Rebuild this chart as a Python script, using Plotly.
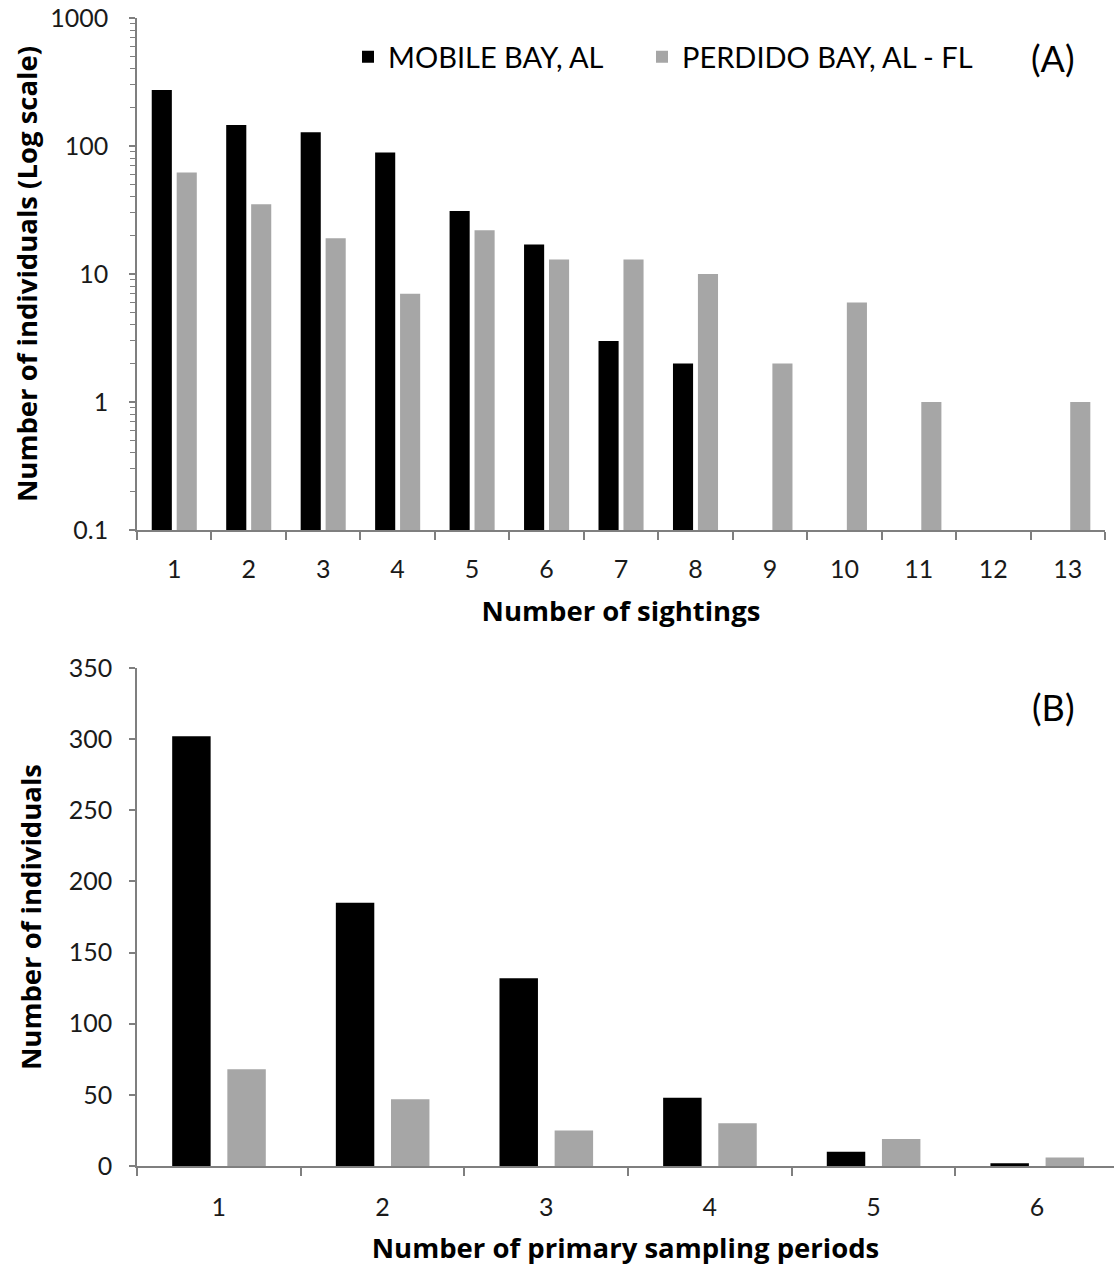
import plotly.graph_objects as go

# ---- Data ----
sightings = [str(i) for i in range(1, 14)]
mobile_sightings = [274, 146, 128, 89, 31, 17, 3, 2, None, None, None, None, None]
perdido_sightings = [62, 35, 19, 7, 22, 13, 13, 10, 2, 6, 1, None, 1]

periods = [str(i) for i in range(1, 7)]
mobile_periods = [302, 185, 132, 48, 10, 2]
perdido_periods = [68, 47, 25, 30, 19, 6]

series_names = ["MOBILE BAY, AL", "PERDIDO BAY, AL - FL"]
colors = ["#000000", "#a6a6a6"]

FONT = "Lato"
TITLE_FONT = "Open Sans"
AXIS_COLOR = "#7f7f7f"

fig = go.Figure()

# Panel A
fig.add_trace(go.Bar(x=sightings, y=mobile_sightings, name=series_names[0],
                     marker=dict(color=colors[0], line=dict(width=0)),
                     width=0.27, offset=-0.302, xaxis="x", yaxis="y",
                     legend="legend"))
fig.add_trace(go.Bar(x=sightings, y=perdido_sightings, name=series_names[1],
                     marker=dict(color=colors[1], line=dict(width=0)),
                     width=0.27, offset=0.033, xaxis="x", yaxis="y",
                     legend="legend2"))
# Panel B
fig.add_trace(go.Bar(x=periods, y=mobile_periods, name=series_names[0],
                     marker=dict(color=colors[0], line=dict(width=0)),
                     width=0.235, offset=-0.285, xaxis="x2", yaxis="y2",
                     showlegend=False))
fig.add_trace(go.Bar(x=periods, y=perdido_periods, name=series_names[1],
                     marker=dict(color=colors[1], line=dict(width=0)),
                     width=0.235, offset=0.052, xaxis="x2", yaxis="y2",
                     showlegend=False))

W, H = 1114, 1268
L = 137
pw = W - L


def fx(px):
    return (px - L) / pw


def fy(py):
    return 1 - py / H


tick_font = dict(family=FONT, size=25, color="#1a1a1a")
title_font = dict(family=TITLE_FONT, size=27.5, color="#000000", weight="bold")
legend_font = dict(family=FONT, size=29, color="#000")

fig.update_layout(
    width=W, height=H,
    margin=dict(l=L, r=0, t=0, b=0),
    paper_bgcolor="white", plot_bgcolor="white",
    barmode="group",
    font=dict(family=FONT),
    showlegend=True,
    legend=dict(orientation="h", x=fx(348), y=fy(57), xanchor="left", yanchor="middle",
                font=legend_font, bgcolor="rgba(0,0,0,0)"),
    legend2=dict(orientation="h", x=fx(642), y=fy(57), xanchor="left", yanchor="middle",
                 font=legend_font, bgcolor="rgba(0,0,0,0)"),
    xaxis=dict(domain=[0, fx(1105)], anchor="y", type="category",
               range=[-0.5, 12.5], tickson="boundaries",
               showline=True, linecolor=AXIS_COLOR, linewidth=1.5,
               ticks="outside", ticklen=8, tickcolor=AXIS_COLOR, tickwidth=1.5,
               tickfont=tick_font, ticklabelstandoff=16,
               title=dict(text="Number of sightings", font=title_font, standoff=20),
               showgrid=False, zeroline=False, automargin=False),
    yaxis=dict(domain=[fy(530), fy(18)], anchor="x", type="log",
               range=[-1, 3], tickvals=[0.1, 1, 10, 100, 1000],
               ticktext=["0.1", "1", "10", "100", "1000"],
               ticklabeloverflow="allow",
               showline=True, linecolor=AXIS_COLOR, linewidth=1.5,
               ticks="outside", ticklen=6, tickcolor=AXIS_COLOR, tickwidth=1.5,
               minor=dict(ticks="outside", ticklen=5, tickcolor=AXIS_COLOR,
                          tickwidth=1, dtick="D1", showgrid=False),
               tickfont=tick_font, ticklabelstandoff=16,
               title=dict(text="Number of individuals (Log scale)", font=title_font,
                          standoff=5),
               showgrid=False, zeroline=False, automargin=False),
    xaxis2=dict(domain=[0, 1], anchor="y2", type="category",
                range=[-0.5, 5.47], tickson="boundaries",
                showline=True, linecolor=AXIS_COLOR, linewidth=1.5,
                ticks="outside", ticklen=8, tickcolor=AXIS_COLOR, tickwidth=1.5,
                tickfont=tick_font, ticklabelstandoff=18,
                title=dict(text="Number of primary sampling periods", font=title_font,
                           standoff=19),
                showgrid=False, zeroline=False, automargin=False),
    yaxis2=dict(domain=[fy(1166), fy(668)], anchor="x2",
                range=[0, 350], tickvals=[0, 50, 100, 150, 200, 250, 300, 350],
                showline=True, linecolor=AXIS_COLOR, linewidth=1.5,
                ticks="outside", ticklen=6, tickcolor=AXIS_COLOR, tickwidth=1.5,
                tickfont=tick_font, ticklabelstandoff=12,
                title=dict(text="Number of individuals", font=title_font, standoff=19),
                showgrid=False, zeroline=False, automargin=False),
    annotations=[
        dict(text="(A)", x=fx(1053), y=fy(58), xref="paper", yref="paper",
             xanchor="center", yanchor="middle",
             showarrow=False, font=dict(family=FONT, size=36, color="#000")),
        dict(text="(B)", x=fx(1053), y=fy(707), xref="paper", yref="paper",
             xanchor="center", yanchor="middle",
             showarrow=False, font=dict(family=FONT, size=36, color="#000")),
    ],
)

fig.write_html("out.html",
               config={"displayModeBar": False},
               post_script="document.body.style.margin='0';document.body.style.overflow='hidden';")
